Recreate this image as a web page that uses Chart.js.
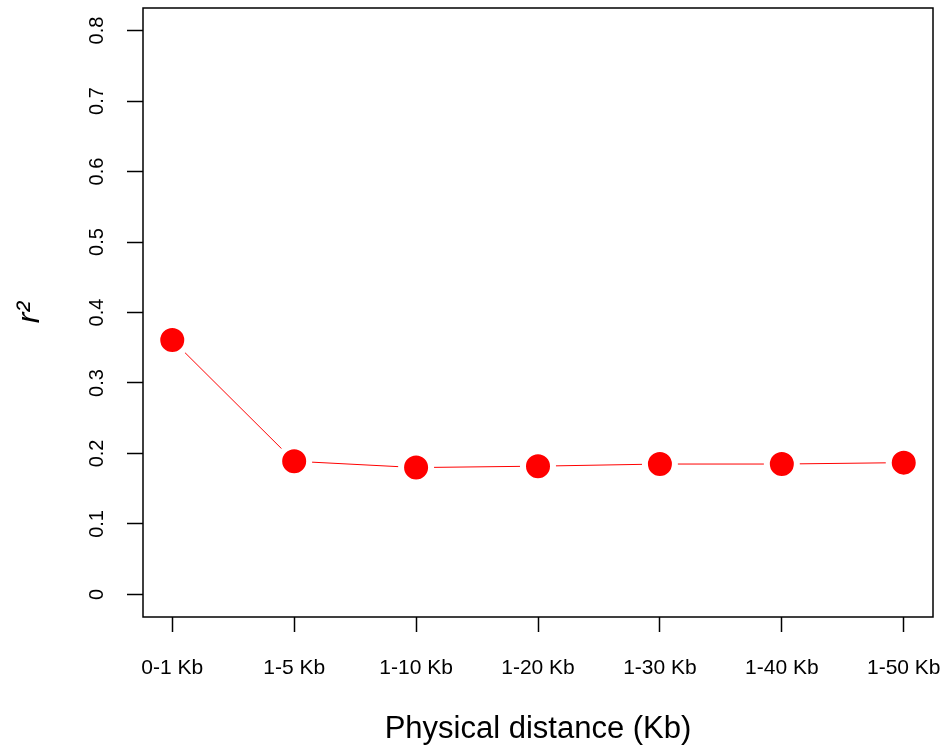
<!DOCTYPE html>
<html>
<head>
<meta charset="utf-8">
<script src="https://cdn.jsdelivr.net/npm/chart.js@4/dist/chart.umd.min.js"></script>
<style>
  html, body { margin: 0; padding: 0; background: #fff; }
  #wrap { width: 943px; height: 748px; position: relative; }
</style>
</head>
<body>
<div id="wrap"><canvas id="c"></canvas></div>
<script>
// ---- data ----
const categories = ['0-1 Kb', '1-5 Kb', '1-10 Kb', '1-20 Kb', '1-30 Kb', '1-40 Kb', '1-50 Kb'];
const r2Values = [0.361, 0.189, 0.180, 0.182, 0.185, 0.185, 0.187];
const yTicks = [0, 0.1, 0.2, 0.3, 0.4, 0.5, 0.6, 0.7, 0.8];
const xTitle = 'Physical distance (Kb)';
const yTitle = 'r\u00B2';

const points = r2Values.map((v, i) => ({ x: i + 1, y: v }));

const boxPlugin = {
  id: 'box',
  afterDraw(chart) {
    const { ctx, chartArea: a } = chart;
    ctx.save();
    ctx.strokeStyle = '#000';
    ctx.lineWidth = 1.5;
    ctx.strokeRect(a.left, a.top, a.right - a.left, a.bottom - a.top);
    ctx.restore();
  }
};

new Chart(document.getElementById('c'), {
  type: 'line',
  data: {
    datasets: [{
      data: points,
      borderColor: '#ff0000',
      borderWidth: 1,
      backgroundColor: '#ff0000',
      pointBackgroundColor: '#ff0000',
      pointBorderColor: '#ffffff',
      pointBorderWidth: 6,
      pointRadius: 15,
      pointHoverRadius: 15,
      tension: 0,
      clip: false
    }]
  },
  options: {
    responsive: true,
    maintainAspectRatio: false,
    animation: false,
    layout: { autoPadding: false, padding: { top: 8, right: 10, left: 0, bottom: 0 } },
    plugins: { legend: { display: false }, tooltip: { enabled: false } },
    scales: {
      x: {
        type: 'linear',
        min: 0.76,
        max: 7.24,
        border: { display: false },
        grid: { drawOnChartArea: false, drawTicks: true, tickLength: 15, color: '#000', tickWidth: 1.5 },
        afterBuildTicks(scale) { scale.ticks = categories.map((c, i) => ({ value: i + 1 })); },
        afterFit(scale) {
          scale.height = 131;
          scale.paddingLeft = 0; scale.paddingRight = 0;
        },
        ticks: {
          color: '#000',
          font: { family: 'Liberation Sans, Arial, sans-serif', size: 21 },
          padding: 24,
          maxRotation: 0,
          autoSkip: false,
          callback(v) { return categories[Math.round(v) - 1]; }
        },
        title: {
          display: true,
          text: xTitle,
          color: '#000',
          font: { family: 'Liberation Sans, Arial, sans-serif', size: 31 },
          padding: { top: 0, bottom: 0 }
        }
      },
      y: {
        type: 'linear',
        min: -0.032,
        max: 0.832,
        border: { display: false },
        grid: { drawOnChartArea: false, drawTicks: true, tickLength: 16, color: '#000', tickWidth: 1.5 },
        afterBuildTicks(scale) { scale.ticks = yTicks.map(v => ({ value: v })); },
        afterFit(scale) {
          scale.width = 143;
          scale.paddingTop = 0; scale.paddingBottom = 0;
        },
        ticks: {
          color: '#000',
          font: { family: 'Liberation Sans, Arial, sans-serif', size: 20 },
          padding: 16,
          minRotation: 90,
          maxRotation: 90,
          crossAlign: 'center',
          callback(v) { return String(Math.round(v * 10) / 10); }
        },
        title: {
          display: true,
          text: yTitle,
          color: '#000',
          font: { family: 'Liberation Sans, Arial, sans-serif', size: 32, style: 'italic' },
          padding: { top: 11, bottom: 0 }
        }
      }
    }
  },
  plugins: [boxPlugin]
});
</script>
</body>
</html>
